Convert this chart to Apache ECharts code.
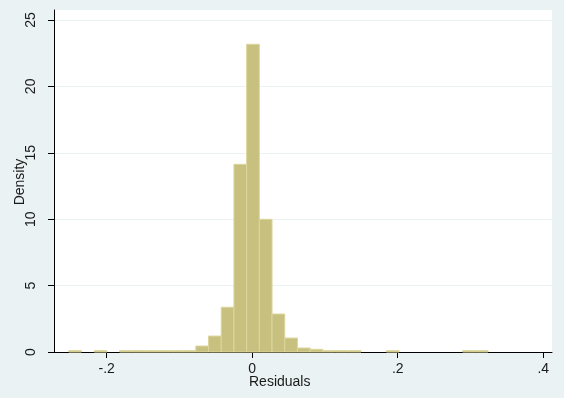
<!DOCTYPE html>
<html>
<head>
<meta charset="utf-8">
<script src="https://cdn.jsdelivr.net/npm/echarts@6/dist/echarts.min.js"></script>
<style>
  html, body { margin: 0; padding: 0; background: #eaf2f3; }
  #chart { width: 564px; height: 398px; }
</style>
</head>
<body>
<div id="chart"></div>
<script>
// Histogram of residuals: equal-width bins starting at binStart
const binStart = -0.2521;
const binWidth = 0.01746;
const densities = [
  0.1, 0, 0.1, 0, 0.1, 0.1, 0.1, 0.1, 0.1, 0.1,
  0.45, 1.2, 3.37, 14.13, 23.17, 9.99, 2.86, 1.05, 0.3, 0.2,
  0.1, 0.1, 0.1, 0, 0, 0.1, 0, 0, 0, 0, 0, 0.1, 0.1
];

const xTicks = [-0.2, 0, 0.2, 0.4];
const xTickLabels = ['-.2', '0', '.2', '.4'];
const yTicks = [0, 5, 10, 15, 20, 25];

const bins = [];
densities.forEach((d, i) => {
  if (d > 0) {
    const lo = binStart + i * binWidth;
    bins.push([lo, lo + binWidth, d]);
  }
});

const FONT = '"Liberation Sans", Arial, sans-serif';
const TXT = '#1a1a1a';

const chart = echarts.init(document.getElementById('chart'), null, { renderer: 'canvas' });
chart.setOption({
  backgroundColor: '#eaf2f3',
  animation: false,
  grid: {
    left: 54, right: 12, top: 10, bottom: 46,
    containLabel: false,
    outerBoundsMode: 'none',
    show: true, backgroundColor: '#ffffff', borderWidth: 0
  },
  xAxis: {
    type: 'value',
    min: -0.2724, max: 0.412,
    axisLine: { show: true, onZero: false, lineStyle: { color: '#000', width: 1 } },
    axisTick: { show: true, length: 6, customValues: xTicks, lineStyle: { color: '#000' } },
    axisLabel: {
      customValues: xTicks,
      margin: 10,
      fontFamily: FONT, fontSize: 14, color: TXT,
      formatter: v => {
        const i = xTicks.findIndex(t => Math.abs(t - v) < 1e-9);
        return i >= 0 ? xTickLabels[i] : '';
      }
    },
    splitLine: { show: false }
  },
  yAxis: {
    type: 'value',
    min: 0, max: 25.75, interval: 5,
    axisLine: { show: true, onZero: false, lineStyle: { color: '#000', width: 1 } },
    axisTick: { show: true, length: 6, customValues: yTicks, lineStyle: { color: '#000' } },
    axisLabel: {
      customValues: yTicks,
      rotate: 90,
      margin: 16,
      fontFamily: FONT, fontSize: 14, color: TXT
    },
    splitLine: { show: true, lineStyle: { color: '#eaf2f3', width: 1 } }
  },
  graphic: [
    {
      type: 'text',
      x: 20, y: 182,
      rotation: Math.PI / 2,
      style: {
        text: 'Density', fontFamily: FONT, fontSize: 14, fill: TXT,
        align: 'center', verticalAlign: 'middle'
      }
    },
    {
      type: 'text',
      left: 249, top: 375,
      style: { text: 'Residuals', fontFamily: FONT, fontSize: 14, fill: TXT }
    }
  ],
  series: [{
    type: 'custom',
    data: bins,
    encode: { x: [0, 1], y: 2 },
    renderItem: (params, api) => {
      const p0 = api.coord([api.value(0), api.value(2)]);
      const p1 = api.coord([api.value(1), 0]);
      return {
        type: 'rect',
        shape: { x: p0[0], y: p0[1], width: p1[0] - p0[0], height: p1[1] - p0[1] },
        style: { fill: '#c8c07f', stroke: '#dcd69c', lineWidth: 1 }
      };
    }
  }]
});
</script>
</body>
</html>
